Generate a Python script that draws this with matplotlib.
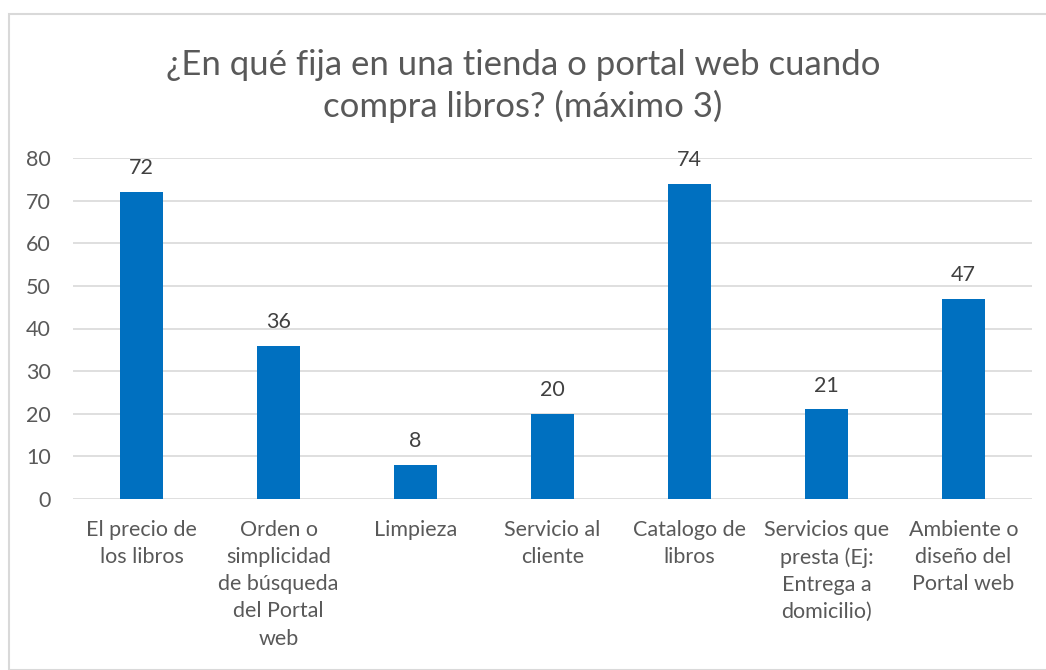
import matplotlib.pyplot as plt
from matplotlib.patches import Rectangle

categories = [
    "El precio de\nlos libros",
    "Orden o\nsimplicidad\nde búsqueda\ndel Portal\nweb",
    "Limpieza",
    "Servicio al\ncliente",
    "Catalogo de\nlibros",
    "Servicios que\npresta (Ej:\nEntrega a\ndomicilio)",
    "Ambiente o\ndiseño del\nPortal web",
]
values = [72, 36, 8, 20, 74, 21, 47]
yticks = [0, 10, 20, 30, 40, 50, 60, 70, 80]

plt.rcParams['font.family'] = ['Lato', 'DejaVu Sans']
text_color = "#595959"
grid_color = "#D9D9D9"

fig = plt.figure(figsize=(10.46, 6.70), dpi=100)
ax = fig.add_axes([73 / 1046, 1 - 499 / 670, (1032 - 73) / 1046, (499 - 158) / 670])

x = range(len(categories))
bars = ax.bar(x, values, width=0.314, color="#0070C0", zorder=3)
for b, v in zip(bars, values):
    ax.annotate(str(v), (b.get_x() + b.get_width() / 2, v), xytext=(0, 10),
                textcoords="offset points", ha="center", va="bottom",
                fontsize=15.5, color="#404040")

ax.set_xlim(-0.5, len(categories) - 0.5)
ax.set_ylim(0, 80)
ax.set_yticks(yticks)
ax.set_xticks(list(x))
ax.set_xticklabels(categories, fontsize=15.5, color=text_color, linespacing=1.45)
ax.tick_params(axis="y", labelsize=15.5, labelcolor=text_color, length=0, pad=16)
ax.tick_params(axis="x", length=0, pad=15)
ax.grid(axis="y", color=grid_color, linewidth=1.2, zorder=0)
for s in ax.spines.values():
    s.set_visible(False)

fig.text(0.5, 1 - 86 / 670, "¿En qué fija en una tienda o portal web cuando\ncompra libros? (máximo 3)",
         ha="center", va="center", fontsize=25, color=text_color, linespacing=1.3)

fig.patches.append(Rectangle((9 / 1046, 0), 1, 1 - 14 / 670, transform=fig.transFigure,
                             fill=False, edgecolor=grid_color, linewidth=1.5))

fig.savefig("out.png", dpi=100)
